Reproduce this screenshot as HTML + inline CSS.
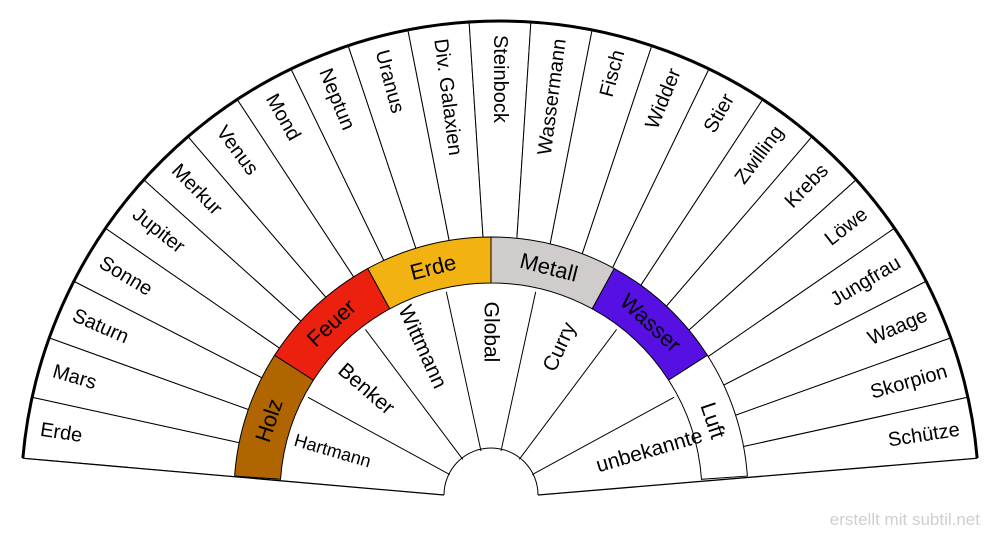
<!DOCTYPE html>
<html><head><meta charset="utf-8">
<style>
html,body{margin:0;padding:0;background:#fff;}
svg{display:block;font-family:"Liberation Sans",sans-serif;}
</style></head>
<body>
<svg id="chart" width="1000" height="540" viewBox="0 0 1000 540" xmlns="http://www.w3.org/2000/svg">
</svg>
<script>
const outerLabels = ["Erde","Mars","Saturn","Sonne","Jupiter","Merkur","Venus","Mond","Neptun","Uranus","Div. Galaxien","Steinbock","Wassermann","Fisch","Widder","Stier","Zwilling","Krebs","Löwe","Jungfrau","Waage","Skorpion","Schütze"];
const middleLabels = ["Holz","Feuer","Erde","Metall","Wasser","Luft"];
const middleColors = ["#b16500","#ec200e","#f1b212","#d1cccc","#5610e2","#ffffff"];
const innerLabels = ["Hartmann","Benker","Wittmann","Global","Curry","","unbekannte"];

const NS = "http://www.w3.org/2000/svg";
const svg = document.getElementById("chart");
const rad = d => d*Math.PI/180;
function pt(c, r, a){ return [c[0] + r*Math.cos(rad(a)), c[1] - r*Math.sin(rad(a))]; }
function mk(tag, attrs){ const e = document.createElementNS(NS, tag); for (const k in attrs) e.setAttribute(k, attrs[k]); svg.appendChild(e); return e; }
function wedge(c, r, a0, a1){
  const p0 = pt(c, r, a0), p1 = pt(c, r, a1);
  return `M${c[0]},${c[1]} L${p0[0]},${p0[1]} A${r},${r} 0 0 1 ${p1[0]},${p1[1]} Z`;
}
function annulus(c, r0, r1, a0, a1){
  const p0 = pt(c, r1, a0), p1 = pt(c, r1, a1), q1 = pt(c, r0, a1), q0 = pt(c, r0, a0);
  return `M${p0[0]},${p0[1]} A${r1},${r1} 0 0 1 ${p1[0]},${p1[1]} L${q1[0]},${q1[1]} A${r0},${r0} 0 0 0 ${q0[0]},${q0[1]} Z`;
}
function angleScale(n, i, start, end){ return start - (start-end)*i/n; }

// Outer ring
const CO = [500,500], RO = 479;
const OS = 175, OE = 5;
outerLabels.forEach((lab, i) => {
  const a0 = angleScale(outerLabels.length, i, OS, OE), a1 = angleScale(outerLabels.length, i+1, OS, OE);
  const p = mk("path", {d: wedge(CO, RO, a0, a1), fill:"#fff", stroke:"#000", "stroke-width":"1"});
  
  
});
outerLabels.forEach((lab, i) => {
  const am = (angleScale(outerLabels.length, i, OS, OE) + angleScale(outerLabels.length, i+1, OS, OE))/2;
  const q = pt(CO, 465, am);
  const left = am >= 89.9;
  const rot = left ? 180 - am : -am;
  const t = mk("text", {x:q[0], y:q[1], "font-size":"20", "text-anchor": left ? "start" : "end", "dominant-baseline":"central", transform:`rotate(${rot} ${q[0]} ${q[1]})`});
  t.textContent = lab;
  
  
});
{
  const p0 = pt(CO, RO, OS), p1 = pt(CO, RO, OE);
  const arc = mk("path", {d:`M${p0[0]},${p0[1]} A${RO},${RO} 0 0 1 ${p1[0]},${p1[1]}`, fill:"none", stroke:"#000", "stroke-width":"3"});
  
  
}

// Inner white area (no radial strokes)
const CM = [491,494], RM = 257, RI = 211;
const MS = 176, ME = 4;
{
  const p = mk("path", {d: wedge(CM, RI+1, 178, 2), fill:"#fff", stroke:"none"});
  
  
}
// Middle ring
middleLabels.forEach((lab, i) => {
  const a0 = angleScale(middleLabels.length, i, MS, ME), a1 = angleScale(middleLabels.length, i+1, MS, ME);
  const p = mk("path", {d: annulus(CM, RI, RM, a0, a1), fill: middleColors[i], stroke:"#000", "stroke-width":"1"});
  
  
});
middleLabels.forEach((lab, i) => {
  const am = (angleScale(middleLabels.length, i, MS, ME) + angleScale(middleLabels.length, i+1, MS, ME))/2;
  const q = pt(CM, (RM+RI)/2, am);
  const t = mk("text", {x:q[0], y:q[1], "font-size":"22", "text-anchor":"middle", "dominant-baseline":"central", transform:`rotate(${90-am} ${q[0]} ${q[1]})`});
  t.textContent = lab;
  
  
});

const CH = [491,497], RH = 47;
for (let i = 1; i < innerLabels.length; i++) {
  const a = angleScale(innerLabels.length, i, MS, ME);
  const p0 = pt(CH, RH, a), p1 = pt(CH, RI - 4 + 3*Math.sin(rad(a)), a);
  const l = mk("line", {x1:p0[0], y1:p0[1], x2:p1[0], y2:p1[1], stroke:"#000", "stroke-width":"1"});
  
  
}
innerLabels.forEach((lab, i) => {
  if (!lab) return;
  const am = (angleScale(innerLabels.length, i, MS, ME) + angleScale(innerLabels.length, i+1, MS, ME))/2;
  const q = pt(CH, 165, am);
  const left = am >= 89.9;
  const rot = left ? 180 - am : -am;
  const t = mk("text", {x:q[0], y:q[1], "font-size": lab === "Hartmann" ? "18" : "21", "text-anchor":"middle", "dominant-baseline":"central", transform:`rotate(${rot} ${q[0]} ${q[1]})`});
  t.textContent = lab;
  
  
});

// hole
{
  const h = mk("path", {d:`M${CH[0]-RH},${CH[1]+2} A${RH},${RH} 0 0 1 ${CH[0]+RH},${CH[1]+2} L${CH[0]+RH},${CH[1]+10} L${CH[0]-RH},${CH[1]+10} Z`, fill:"#fff", stroke:"none"});
  
  
  const a = mk("path", {d:`M${CH[0]-RH},${CH[1]-2} A${RH},${RH} 0 0 1 ${CH[0]+RH},${CH[1]-2}`, fill:"none", stroke:"#000", "stroke-width":"1"});
  
  
}
// cover below bottom edge and redraw edges
{
  const pl = pt(CO, RO, OS), pr = pt(CO, RO, OE);
  const hl = [CH[0]-RH, CH[1]-2], hr = [CH[0]+RH, CH[1]-2];
  const cover = mk("path", {d:`M0,${pl[1]} L${pl[0]},${pl[1]} L${hl[0]},${hl[1]} L${hr[0]},${hr[1]} L${pr[0]},${pr[1]} L1000,${pr[1]} L1000,540 L0,540 Z`, fill:"#fff", stroke:"none"});
  
  
  const l1 = mk("line", {x1:pl[0], y1:pl[1], x2:hl[0], y2:hl[1], stroke:"#000", "stroke-width":"1.3"});
  
  
  const l2 = mk("line", {x1:pr[0], y1:pr[1], x2:hr[0], y2:hr[1], stroke:"#000", "stroke-width":"1.3"});
  
  
  const w = mk("text", {x:"980", y:"525", "text-anchor":"end", "font-size":"17", fill:"#cfcfcf"});
  w.textContent = "erstellt mit subtil.net";
  
  
}
</script>
</body></html>
